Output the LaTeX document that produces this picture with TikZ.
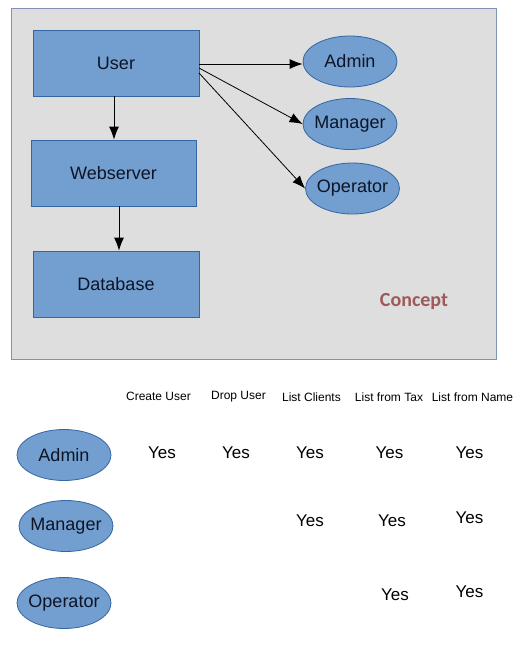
\documentclass[tikz,border=0pt]{standalone}
\usepackage{fontspec}
\setmainfont{Liberation Sans}
\newfontfamily\conceptfont{Carlito}
\usetikzlibrary{shapes.geometric,arrows.meta}
\definecolor{boxfill}{HTML}{729FCF}
\definecolor{boxline}{HTML}{3465A4}
\definecolor{framefill}{HTML}{DEDEDE}
\definecolor{frameline}{HTML}{7F93B5}
\definecolor{conceptcol}{HTML}{9E5A5A}
\definecolor{textdark}{HTML}{0D1426}
\newcommand{\zw}[1]{\makebox[0pt]{#1}}
\tikzset{
  px/.style={x=1pt,y=-1pt},
  blockbox/.style={draw=boxline,fill=boxfill,line width=0.8pt,inner sep=0pt,text=textdark,font=\fontsize{18}{21}\selectfont},
  roleell/.style={ellipse,draw=boxline,fill=boxfill,line width=0.8pt,inner sep=0pt,minimum width=94pt,minimum height=51pt,text=textdark,font=\fontsize{18}{21}\selectfont},
  conn/.style={-{Latex[length=13pt,width=10pt]},line width=0.8pt,black},
  hdr/.style={font=\fontsize{12}{14}\selectfont,inner sep=0pt},
  yes/.style={font=\fontsize{17}{20}\selectfont,inner sep=0pt},
}
\begin{document}
\begin{tikzpicture}[px]
\useasboundingbox (0,0) rectangle (520,646);
\fill[white] (0,0) rectangle (520,646);
% frame
\node[draw=frameline,fill=framefill,line width=0.9pt,minimum width=485pt,minimum height=351pt,inner sep=0pt,anchor=north west] (frame) at (11,8) {};
% boxes
\node[blockbox,minimum width=166pt,minimum height=66pt] (user) at (116,63) {User};
\node[blockbox,minimum width=165pt,minimum height=66pt] (web) at (113.5,173) {Webserver};
\node[blockbox,minimum width=166pt,minimum height=66pt] (db) at (116,284) {Database};
% roles
\node[roleell] (admin) at (350,61.5) {\zw{Admin}};
\node[roleell] (manager) at (350,124) {\zw{Manager}};
\node[roleell] (operator) at (352.5,188.5) {\zw{Operator}};
% connectors
\coordinate (u1) at (199,64);
\coordinate (u2) at (199,68);
\coordinate (u3) at (199,73);
\draw[conn] (u1) -- (admin.west |- u1);
\draw[conn] (u2) -- (manager.west);
\draw[conn] (u3) -- (operator.west);
\draw[conn] (user.south -| 114,0) -- (web.north -| 114,0);
\draw[conn] (web.south -| 119,0) -- (db.north -| 119,0);
\node[text=conceptcol,font=\conceptfont\bfseries\fontsize{20}{24}\selectfont] (concept) at (414,302) {Concept};
% table headers
\node[hdr] (h1) at (158.5,396) {Create User};
\node[hdr] (h2) at (238.5,397) {Drop User};
\node[hdr] (h3) at (311.5,397) {List Clients};
\node[hdr] (h4) at (389,397) {List from Tax};
\node[hdr] (h5) at (472.5,397) {List from Name};
% lower roles
\node[roleell] (admin2) at (64,455) {\zw{Admin}};
\node[roleell] (manager2) at (66,526) {\zw{Manager}};
\node[roleell] (operator2) at (64,603) {\zw{Operator}};
% yes values
\node[yes] (a1) at (162,453) {Yes};
\node[yes] (a2) at (236,453) {Yes};
\node[yes] (a3) at (310,453) {Yes};
\node[yes] (a4) at (389.5,453) {Yes};
\node[yes] (a5) at (469.5,453) {Yes};
\node[yes] (m3) at (310,521) {Yes};
\node[yes] (m4) at (392,521) {Yes};
\node[yes] (m5) at (469.5,518) {Yes};
\node[yes] (o4) at (395,595) {Yes};
\node[yes] (o5) at (469.5,592) {Yes};
\end{tikzpicture}
\end{document}
